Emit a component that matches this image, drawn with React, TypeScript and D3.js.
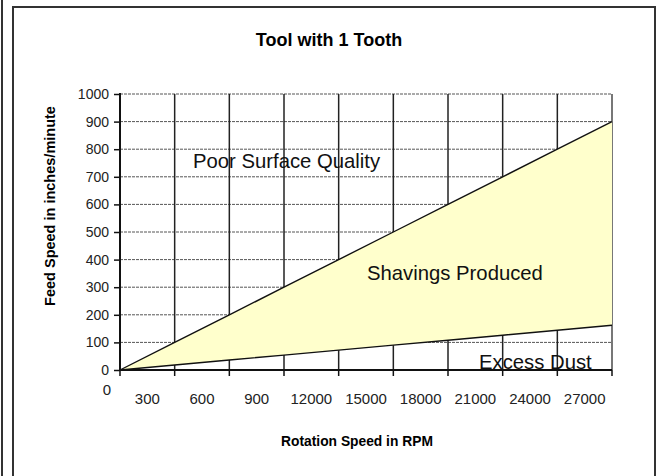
import React, { useEffect, useRef } from "react";
import * as d3 from "d3";

// rotation speed labels (shown between gridlines), first "0" sits at the axis
const rpmLabels = ["300", "600", "900", "12000", "15000", "18000", "21000", "24000", "27000"];
const zeroLabel = "0";
// feed speed at each gridline (0 .. 9)
const upperFeed = [0, 100, 200, 300, 400, 500, 600, 700, 800, 900];
const lowerFeed = [0, 18, 36, 54, 72, 90, 108, 126, 144, 162];
const feedTicks = [0, 100, 200, 300, 400, 500, 600, 700, 800, 900, 1000];

const FONT = "'Liberation Sans', Arial, sans-serif";

export default function App() {
  const svgRef = useRef<SVGSVGElement>(null);

  useEffect(() => {
    const svg = d3.select(svgRef.current);
    svg.selectAll("*").remove();

    const left = 120;
    const right = 612;
    const top = 94;
    const bottom = 370;

    const x = d3.scaleLinear().domain([0, rpmLabels.length]).range([left, right]);
    const y = d3.scaleLinear().domain([0, 1000]).range([bottom, top]);

    // outer frame
    svg.append("line").attr("x1", 2).attr("x2", 2).attr("y1", 0).attr("y2", 476)
      .attr("stroke", "#333").attr("stroke-width", 2);
    svg.append("path").attr("d", "M13,476V7H655V476")
      .attr("fill", "none").attr("stroke", "#333").attr("stroke-width", 2);

    // title
    svg.append("text").attr("x", 329).attr("y", 46).attr("text-anchor", "middle")
      .attr("font-family", FONT).attr("font-weight", "bold").attr("font-size", 18)
      .text("Tool with 1 Tooth");

    const g = svg.append("g");

    // horizontal dashed gridlines
    g.selectAll("line.h").data(feedTicks.slice(1)).join("line")
      .attr("class", "h")
      .attr("x1", left).attr("x2", right)
      .attr("y1", (d) => y(d)).attr("y2", (d) => y(d))
      .attr("stroke", "#555").attr("stroke-width", 1).attr("stroke-dasharray", "3,1");

    // vertical gridlines
    const gridIdx = d3.range(1, rpmLabels.length);
    g.selectAll("line.v").data(gridIdx).join("line")
      .attr("class", "v")
      .attr("x1", (d) => x(d)).attr("x2", (d) => x(d))
      .attr("y1", top).attr("y2", bottom)
      .attr("stroke", "#222").attr("stroke-width", 1.5);
    g.append("line").attr("x1", right).attr("x2", right).attr("y1", top).attr("y2", bottom)
      .attr("stroke", "#777").attr("stroke-width", 2);

    // shavings region
    const area = d3.area<number>()
      .x((_, i) => x(i))
      .y0((_, i) => y(lowerFeed[i]))
      .y1((d) => y(d));
    g.append("path").datum(upperFeed).attr("d", area)
      .attr("fill", "#ffffcc").attr("stroke", "none");

    const line = d3.line<number>().x((_, i) => x(i)).y((d) => y(d));
    [upperFeed, lowerFeed].forEach((s) => {
      g.append("path").datum(s).attr("d", line)
        .attr("fill", "none").attr("stroke", "#111").attr("stroke-width", 1.4);
    });

    // axes
    const yAxis = d3.axisLeft(y).tickValues(feedTicks).tickFormat(d3.format("d")).tickSize(6).tickPadding(5);
    const ya = g.append("g").attr("transform", `translate(${left},0)`).call(yAxis);
    ya.select(".domain").remove();
    ya.selectAll("line").attr("stroke", "#111").attr("stroke-width", 1.5);
    ya.selectAll("text").attr("font-family", FONT).attr("font-size", 14).attr("fill", "#222");

    g.append("line").attr("x1", left).attr("x2", left).attr("y1", top - 1).attr("y2", bottom + 1)
      .attr("stroke", "#111").attr("stroke-width", 2);
    g.append("line").attr("x1", left).attr("x2", right).attr("y1", bottom).attr("y2", bottom)
      .attr("stroke", "#111").attr("stroke-width", 2);
    g.selectAll("line.xt").data(d3.range(rpmLabels.length + 1)).join("line")
      .attr("class", "xt")
      .attr("x1", (d) => x(d)).attr("x2", (d) => x(d))
      .attr("y1", bottom).attr("y2", bottom + 6)
      .attr("stroke", "#111").attr("stroke-width", 1.5);

    g.selectAll("text.xl").data(rpmLabels).join("text")
      .attr("class", "xl")
      .attr("x", (_, i) => x(i + 0.5)).attr("y", 404)
      .attr("text-anchor", "middle")
      .attr("font-family", FONT).attr("font-size", 15).attr("fill", "#222")
      .text((d) => d);
    g.append("text").attr("x", 107).attr("y", 395).attr("text-anchor", "middle")
      .attr("font-family", FONT).attr("font-size", 15).attr("fill", "#222")
      .text(zeroLabel);

    // axis titles
    svg.append("text").attr("x", 357).attr("y", 446).attr("text-anchor", "middle")
      .attr("font-family", FONT).attr("font-weight", "bold").attr("font-size", 13.8)
      .text("Rotation Speed in RPM");
    svg.append("text").attr("transform", "translate(55,206) rotate(-90)")
      .attr("text-anchor", "middle")
      .attr("font-family", FONT).attr("font-weight", "bold").attr("font-size", 14.5)
      .text("Feed Speed in inches/minute");

    // region labels
    const notes = [
      { t: "Poor Surface Quality", x: 193, y: 168 },
      { t: "Shavings Produced", x: 367, y: 280 },
      { t: "Excess Dust", x: 479, y: 369 },
    ];
    svg.selectAll("text.note").data(notes).join("text")
      .attr("class", "note")
      .attr("x", (d) => d.x).attr("y", (d) => d.y)
      .attr("font-family", FONT).attr("font-size", 20.3).attr("fill", "#111")
      .text((d) => d.t);
  }, []);

  return (
    <div style={{ position: "absolute", left: 0, top: 0 }}>
      <svg ref={svgRef} width={660} height={476} style={{ display: "block", background: "#fff" }} />
    </div>
  );
}
